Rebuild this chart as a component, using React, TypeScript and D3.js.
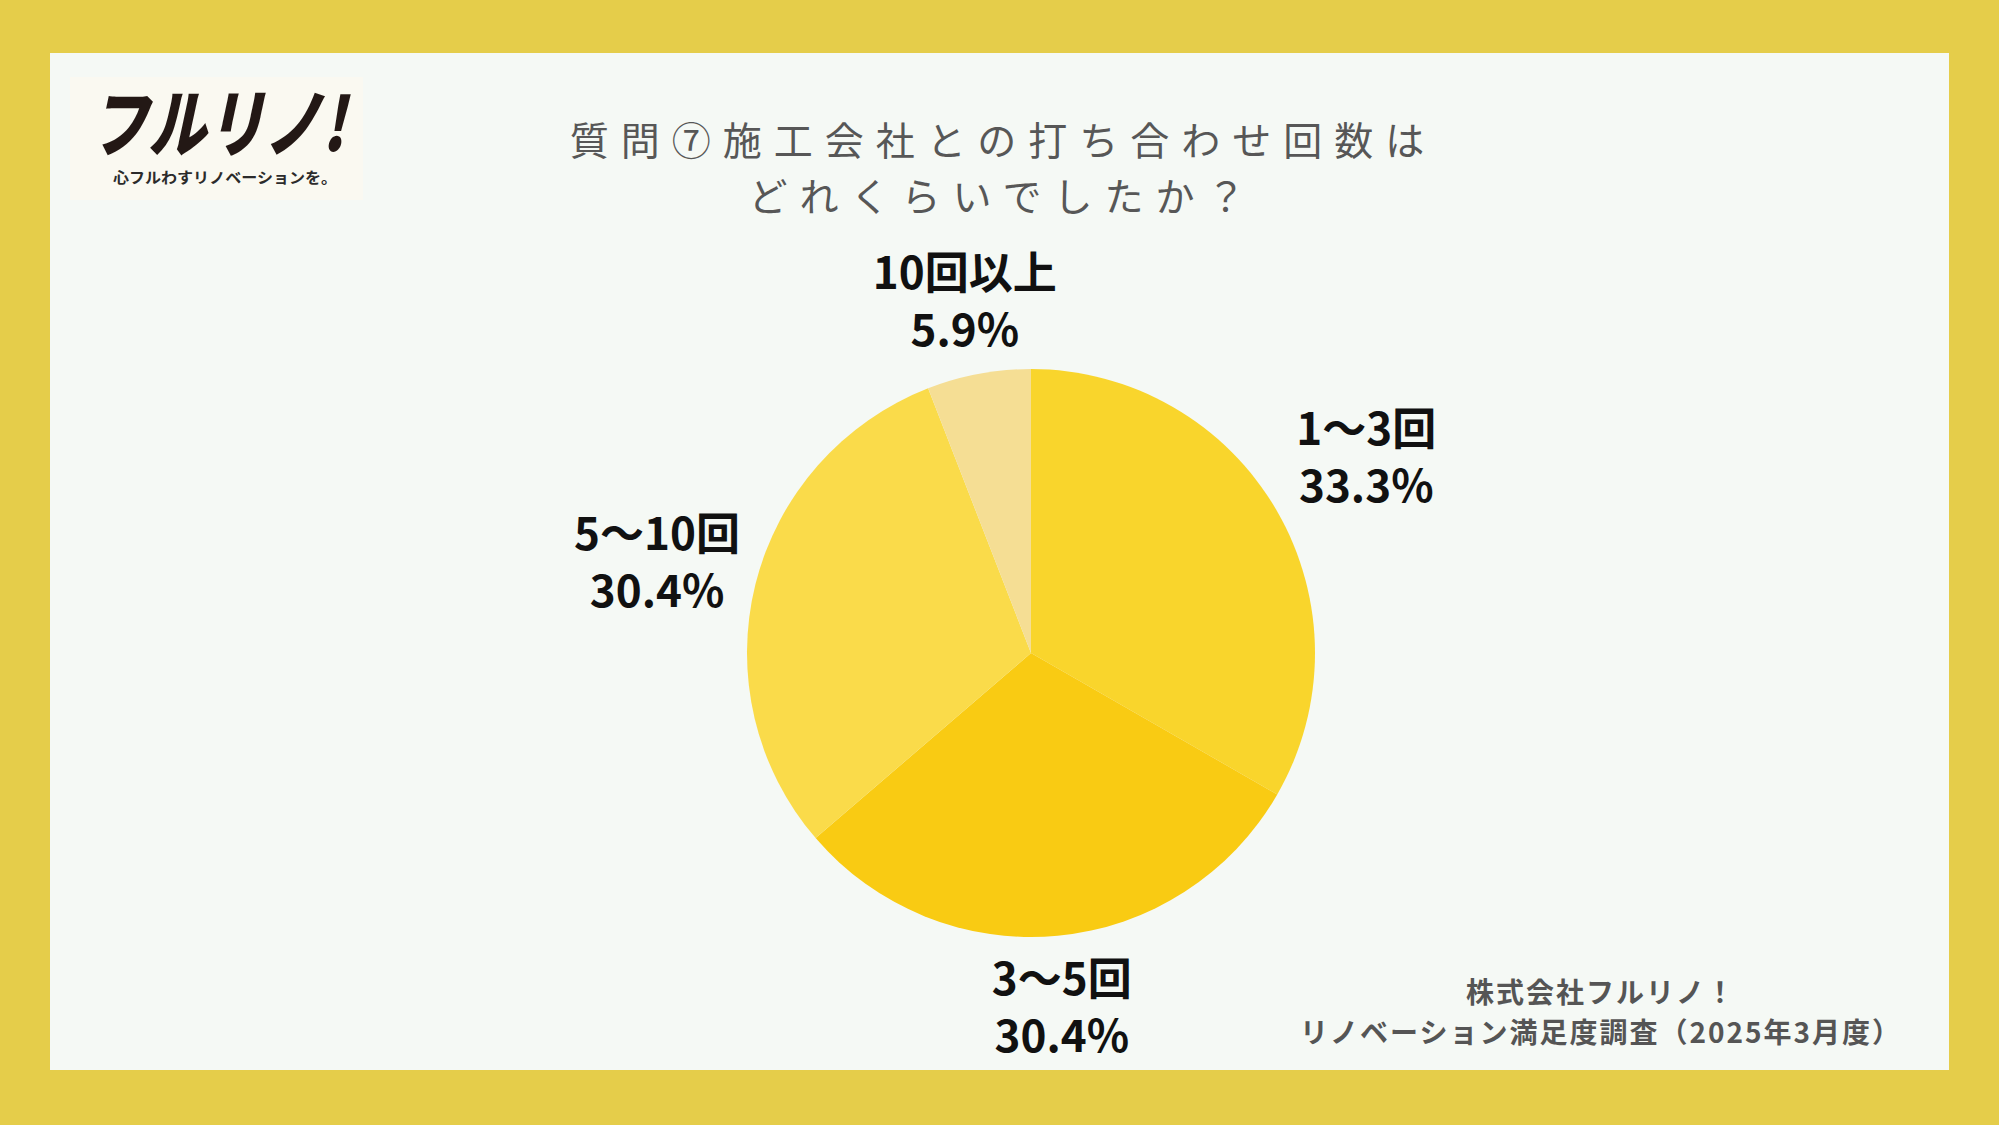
import React from "react";
import * as d3 from "d3";

// Survey answers: how many meetings with the contractor
const categories = ["1〜3回", "3〜5回", "5〜10回", "10回以上"];
const shares = [33.3, 30.4, 30.4, 5.9];
const sliceColors = ["#F9D52C", "#F9CB13", "#FADB4A", "#F5DE94"];

const titleLines = ["質問⑦施工会社との打ち合わせ回数は", "どれくらいでしたか？"];
const sourceLines = ["株式会社フルリノ！", "リノベーション満足度調査（2025年3月度）"];
const logoText = "フルリノ!";
const logoTagline = "心フルわすリノベーションを。";

// Layout
const W = 1999;
const H = 1125;
const CX = 1031;
const CY = 653;
const R = 284;
const LABEL_R = 370;
// per-slice nudges of the label block from the label-arc centroid
const labelNudges: [number, number][] = [
  [15, -23],
  [-4, -26],
  [-15, -13],
  [2, 0],
];

const JP = "'Noto Sans CJK JP', 'Noto Sans', sans-serif";

export default function App() {
  const rows = categories.map((c, i) => ({ category: c, value: shares[i], color: sliceColors[i] }));
  const pie = d3
    .pie<(typeof rows)[number]>()
    .sort(null)
    .value((d) => d.value);
  const arcs = pie(rows);
  const arc = d3.arc<d3.PieArcDatum<(typeof rows)[number]>>().innerRadius(0).outerRadius(R);
  const labelArc = d3
    .arc<d3.PieArcDatum<(typeof rows)[number]>>()
    .innerRadius(LABEL_R)
    .outerRadius(LABEL_R);

  return (
    <svg
      width={W}
      height={H}
      viewBox={`0 0 ${W} ${H}`}
      style={{ position: "absolute", left: 0, top: 0, display: "block" }}
    >
      {/* frame */}
      <rect x={0} y={0} width={W} height={H} fill="#E5CD4A" />
      <rect x={50} y={53} width={1899} height={1017} fill="#F5F9F5" />

      {/* logo */}
      <rect x={70} y={77} width={293} height={123} fill="#FAF9F1" />
      <g transform="translate(90,151) skewX(-12)">
        <text
          x={0}
          y={0}
          textLength={255}
          lengthAdjust="spacingAndGlyphs"
          fontFamily={JP}
          fontWeight={900}
          fontSize={74}
          fill="#231815"
        >
          {logoText}
        </text>
      </g>
      <text
        x={113}
        y={183}
        textLength={224}
        lengthAdjust="spacingAndGlyphs"
        fontFamily={JP}
        fontWeight={700}
        fontSize={15}
        fill="#2b2b2b"
      >
        {logoTagline}
      </text>

      {/* title */}
      {titleLines.map((t, i) => (
        <text
          key={t}
          x={997 + 6}
          y={155 + i * 56}
          textAnchor="middle"
          fontFamily={JP}
          fontWeight={400}
          fontSize={39}
          letterSpacing={12}
          fill="#575757"
        >
          {t}
        </text>
      ))}

      {/* pie */}
      <g transform={`translate(${CX},${CY})`}>
        {arcs.map((a) => (
          <path key={a.data.category} d={arc(a) || ""} fill={a.data.color} />
        ))}
      </g>

      {/* slice labels */}
      {arcs.map((a, i) => {
        const [lx, ly] = labelArc.centroid(a);
        const x = CX + lx + labelNudges[i][0];
        const y = CY + ly + labelNudges[i][1];
        return (
          <g key={`lbl-${a.data.category}`}>
            <text
              x={x}
              y={y}
              textAnchor="middle"
              fontFamily={JP}
              fontWeight={700}
              fontSize={44}
              fill="#111"
            >
              {a.data.category}
            </text>
            <text
              x={x}
              y={y + 57}
              textAnchor="middle"
              fontFamily={JP}
              fontWeight={700}
              fontSize={44}
              fill="#111"
            >
              {`${a.data.value.toFixed(1)}%`}
            </text>
          </g>
        );
      })}

      {/* source */}
      {sourceLines.map((t, i) => (
        <text
          key={t}
          x={1600 + 1}
          y={1003 + i * 40}
          textAnchor="middle"
          fontFamily={JP}
          fontWeight={700}
          fontSize={28}
          letterSpacing={2}
          fill="#555"
        >
          {t}
        </text>
      ))}
    </svg>
  );
}
